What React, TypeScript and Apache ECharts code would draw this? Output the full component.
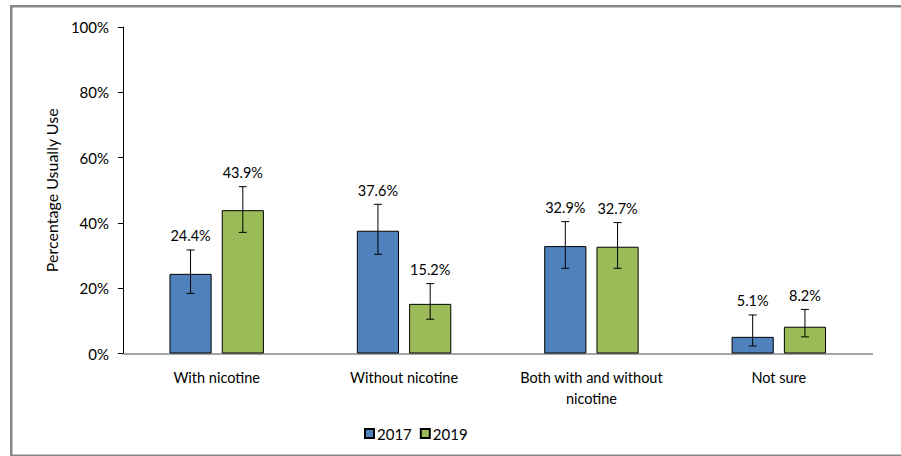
import React, { useEffect, useRef } from "react";
import * as echarts from "echarts";

const categories = ["With nicotine", "Without nicotine", "Both with and without nicotine", "Not sure"];
const seriesNames = ["2017", "2019"];
const values2017 = [24.4, 37.6, 32.9, 5.1];
const values2019 = [43.9, 15.2, 32.7, 8.2];
const low2017 = [18.4, 30.4, 26.1, 2.3];
const high2017 = [31.7, 45.7, 40.4, 11.8];
const low2019 = [37.1, 10.5, 26.1, 5.1];
const high2019 = [51.1, 21.4, 40.1, 13.5];
const yTicks = [0, 20, 40, 60, 80, 100];

const FONT = "Lato, 'Open Sans', sans-serif";
const BLUE = "#4F81BD";
const GREEN = "#9BBB59";

function errorSeries(name: string, vals: number[], lows: number[], highs: number[], side: number) {
  return {
    type: "custom",
    name: name + " error",
    silent: true,
    z: 5,
    data: vals.map((v, i) => [i, lows[i], highs[i], v]),
    renderItem: (params: any, api: any) => {
      const idx = api.value(0);
      const cw = api.size([1, 0])[0];
      const off = side * 0.1395 * cw;
      const top = api.coord([idx, api.value(2)]);
      const bot = api.coord([idx, api.value(1)]);
      const x = top[0] + off;
      const cap = 4;
      const style = { stroke: "#000", lineWidth: 1 };
      return {
        type: "group",
        children: [
          { type: "line", shape: { x1: x, y1: top[1], x2: x, y2: bot[1] }, style },
          { type: "line", shape: { x1: x - cap, y1: top[1], x2: x + cap, y2: top[1] }, style },
          { type: "line", shape: { x1: x - cap, y1: bot[1], x2: x + cap, y2: bot[1] }, style },
          {
            type: "text",
            x: x,
            y: top[1] - 14,
            style: {
              text: api.value(3).toFixed(1) + "%",
              fill: "#000",
              font: "14.5px " + FONT,
              align: "center",
              verticalAlign: "middle",
            },
          },
        ],
      };
    },
  };
}

export default function App() {
  const ref = useRef<HTMLDivElement>(null);
  useEffect(() => {
    if (!ref.current) return;
    const chart = echarts.init(ref.current, undefined, { renderer: "svg" });
    chart.setOption({
      animation: false,
      backgroundColor: "#fff",
      textStyle: { fontFamily: FONT, color: "#000" },
      grid: { left: 123, right: 28.5, top: 27, bottom: 102.5, containLabel: false },
      legend: {
        data: seriesNames,
        left: 359,
        top: 421,
        itemWidth: 9,
        itemHeight: 9,
        itemGap: 8,
        textStyle: { fontSize: 15, fontFamily: FONT, color: "#000", padding: [0, 0, 0, -2] },
        icon: "rect",
      },
      xAxis: {
        type: "category",
        data: categories,
        axisLine: { lineStyle: { color: "#868686", width: 1.5 } },
        axisTick: { show: false },
        axisLabel: {
          fontSize: 14.5,
          fontFamily: FONT,
          color: "#000",
          margin: 13,
          lineHeight: 21,
          interval: 0,
          formatter: (v: string) => (v === "Both with and without nicotine" ? "Both with and without\nnicotine" : v),
        },
      },
      yAxis: {
        type: "value",
        min: 0,
        max: 100,
        interval: 20,
        name: "Percentage Usually Use",
        nameLocation: "middle",
        nameGap: 59,
        nameTextStyle: { fontSize: 16, fontFamily: FONT, color: "#000" },
        axisLine: { show: true, lineStyle: { color: "#000", width: 1 } },
        axisTick: { show: true, length: 5, lineStyle: { color: "#000" } },
        splitLine: { show: false },
        axisLabel: {
          fontSize: 15,
          fontFamily: FONT,
          color: "#000",
          margin: 14,
          formatter: (v: number) => (yTicks.includes(v) ? v + "%" : ""),
        },
      },
      series: [
        {
          type: "bar",
          name: "2017",
          data: values2017,
          barWidth: "22.5%",
          barGap: "24%",
          itemStyle: { color: BLUE, borderColor: "#000", borderWidth: 1 },
        },
        {
          type: "bar",
          name: "2019",
          data: values2019,
          barWidth: "22.5%",
          barGap: "24%",
          itemStyle: { color: GREEN, borderColor: "#000", borderWidth: 1 },
        },
        errorSeries("2017", values2017, low2017, high2017, -1),
        errorSeries("2019", values2019, low2019, high2019, 1),
      ],
      graphic: [
        { type: "rect", shape: { x: 10, y: 5, width: 891, height: 2.5 }, style: { fill: "#878787" }, silent: true },
        { type: "rect", shape: { x: 10, y: 5, width: 2.5, height: 451 }, style: { fill: "#878787" }, silent: true },
        { type: "rect", shape: { x: 10, y: 454.5, width: 891, height: 1.5 }, style: { fill: "#878787" }, silent: true },
      ],
    });
    return () => chart.dispose();
  }, []);
  return <div ref={ref} style={{ width: 901, height: 456, position: "absolute", left: 0, top: 0 }} />;
}
